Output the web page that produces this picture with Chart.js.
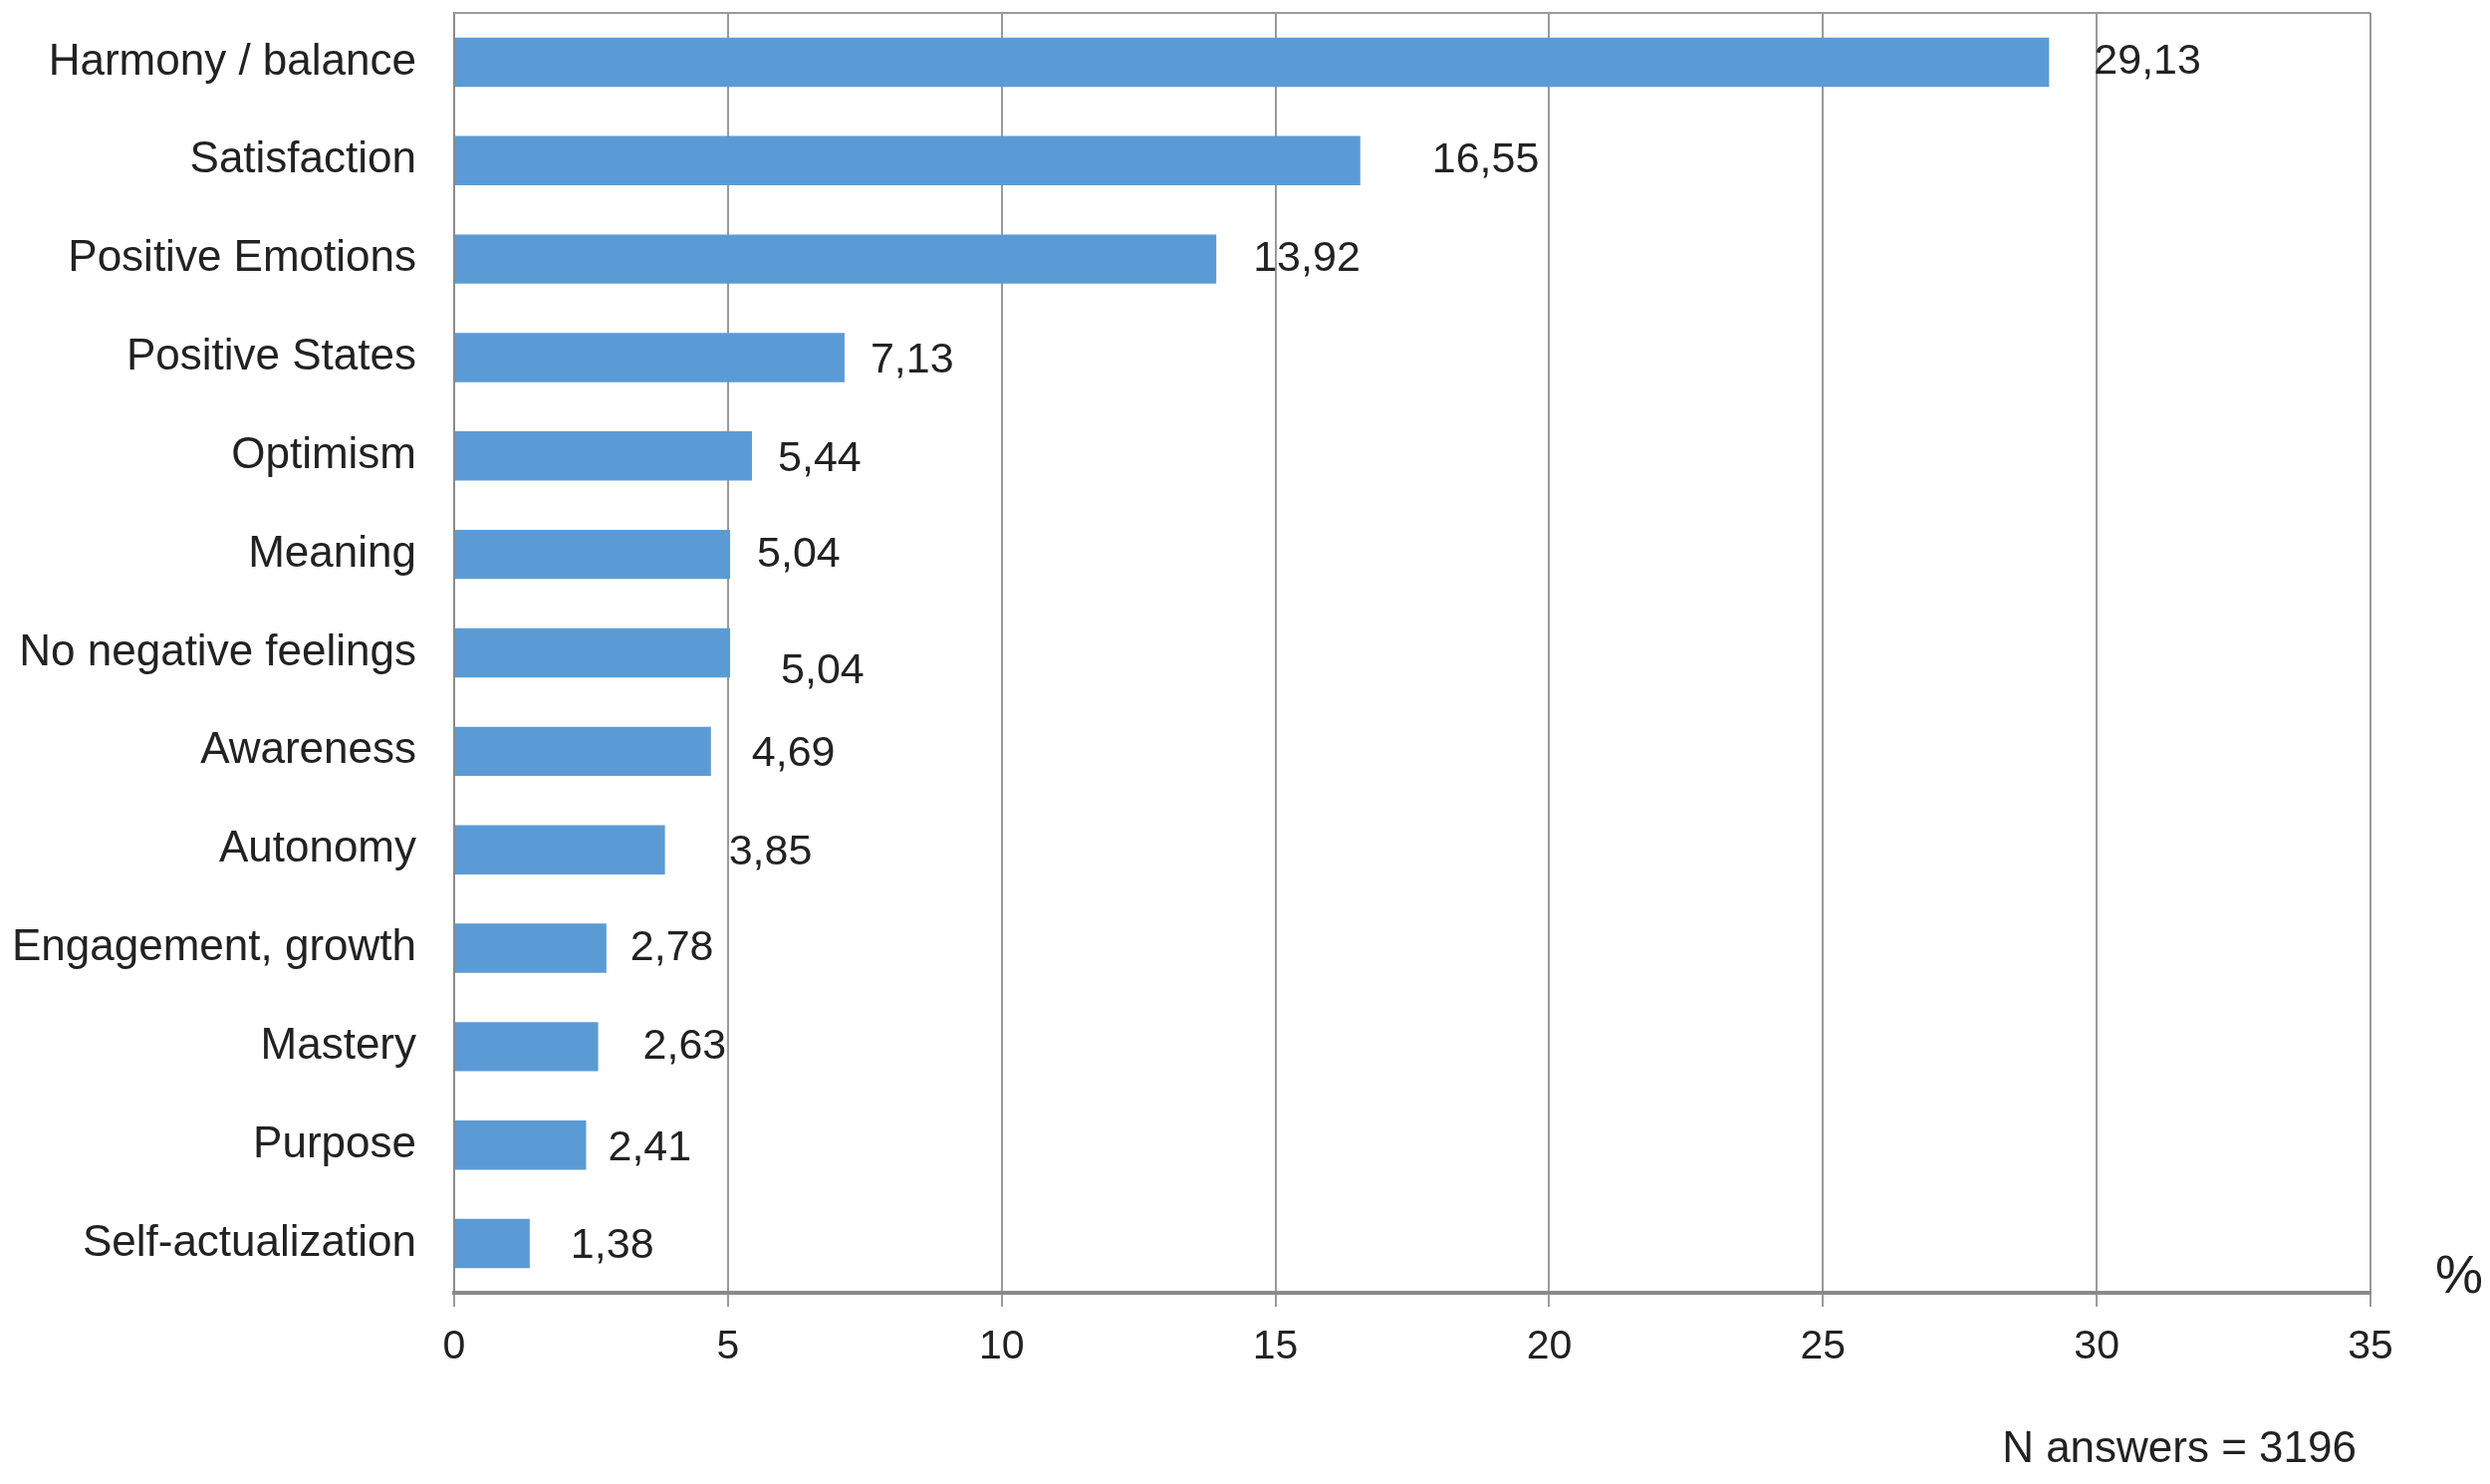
<!DOCTYPE html>
<html>
<head>
<meta charset="utf-8">
<script src="https://cdn.jsdelivr.net/npm/chart.js@4.4.1/dist/chart.umd.min.js"></script>
<style>
    html, body { margin: 0; padding: 0; background: #fff; }
    #wrap { width: 2500px; height: 1490px; }
</style>
</head>
<body>
<div id="wrap"><canvas id="wellChart" width="2500" height="1490"></canvas></div>
<script>
// data
const categories = ['Harmony / balance', 'Satisfaction', 'Positive Emotions', 'Positive States',
    'Optimism', 'Meaning', 'No negative feelings', 'Awareness', 'Autonomy',
    'Engagement, growth', 'Mastery', 'Purpose', 'Self-actualization'];
const percentValues = [29.13, 16.55, 13.92, 7.13, 5.44, 5.04, 5.04, 4.69, 3.85, 2.78, 2.63, 2.41, 1.38];
const xTicks = [0, 5, 10, 15, 20, 25, 30, 35];

// label gap after bar end (px), and vertical shift
const labelGap = [45, 72, 37, 26, 26, 27, 51, 41, 64, 24, 45, 22, 41];
const labelShift = [0, 0, 0, 3, 3, 0, 19, 3, 3, 0, 0, 3, 3];

const FONT = "'Liberation Sans', Arial, sans-serif";
const TEXT = '#222222';

// values, top border, % sign and footnote
const extras = {
    id: 'extras',
    afterDatasetsDraw(chart) {
        const { ctx, chartArea } = chart;
        const meta = chart.getDatasetMeta(0);
        ctx.save();
        ctx.font = `43px ${FONT}`;
        ctx.fillStyle = TEXT;
        ctx.textAlign = 'left';
        ctx.textBaseline = 'middle';
        meta.data.forEach((bar, i) => {
            const txt = percentValues[i].toFixed(2).replace('.', ',');
            ctx.fillText(txt, bar.x + labelGap[i], bar.y + labelShift[i]);
        });

        // top border of plot box
        ctx.strokeStyle = '#9a9a9a';
        ctx.lineWidth = 2;
        ctx.beginPath();
        ctx.moveTo(chartArea.left, chartArea.top);
        ctx.lineTo(chartArea.right, chartArea.top);
        ctx.stroke();

        ctx.font = `54px ${FONT}`;
        ctx.textAlign = 'center';
        ctx.fillText('%', chartArea.right + 89, chartArea.bottom - 15);

        ctx.font = `44px ${FONT}`;
        ctx.textAlign = 'right';
        ctx.fillText('N answers = 3196', chartArea.right - 14, chartArea.bottom + 158);
        ctx.restore();
    }
};

document.addEventListener('DOMContentLoaded', () => {
    const ctx = document.getElementById('wellChart').getContext('2d');
    new Chart(ctx, {
        type: 'bar',
        data: {
            labels: categories,
            datasets: [{
                data: percentValues,
                backgroundColor: '#5b9bd5',
                borderWidth: 0,
                barPercentage: 0.5,
                categoryPercentage: 1.0
            }]
        },
        options: {
            indexAxis: 'y',
            responsive: false,
            animation: false,
            devicePixelRatio: 1,
            layout: { padding: { top: 13, right: 120, left: 0, bottom: 0 } },
            plugins: {
                legend: { display: false },
                tooltip: { enabled: false }
            },
            scales: {
                x: {
                    min: 0,
                    max: 35,
                    afterBuildTicks: (scale) => {
                        scale.ticks = xTicks.map(v => ({ value: v }));
                    },
                    afterFit: (scale) => { scale.height = 192; },
                    grid: {
                        color: '#9a9a9a',
                        lineWidth: 2,
                        tickLength: 14,
                        tickColor: '#9a9a9a'
                    },
                    border: { display: true, color: '#8a8a8a', width: 4 },
                    ticks: {
                        color: TEXT,
                        padding: 16,
                        maxRotation: 0,
                        font: { family: FONT, size: 41 }
                    }
                },
                y: {
                    afterFit: (scale) => {
                        scale.width = 456;
                        scale.paddingTop = 0;
                        scale.paddingBottom = 0;
                    },
                    grid: { display: false },
                    border: { display: true, color: '#8a8a8a', width: 2 },
                    ticks: {
                        color: TEXT,
                        padding: 30,
                        font: { family: FONT, size: 44 }
                    }
                }
            }
        },
        plugins: [extras]
    });
});
</script>
</body>
</html>
